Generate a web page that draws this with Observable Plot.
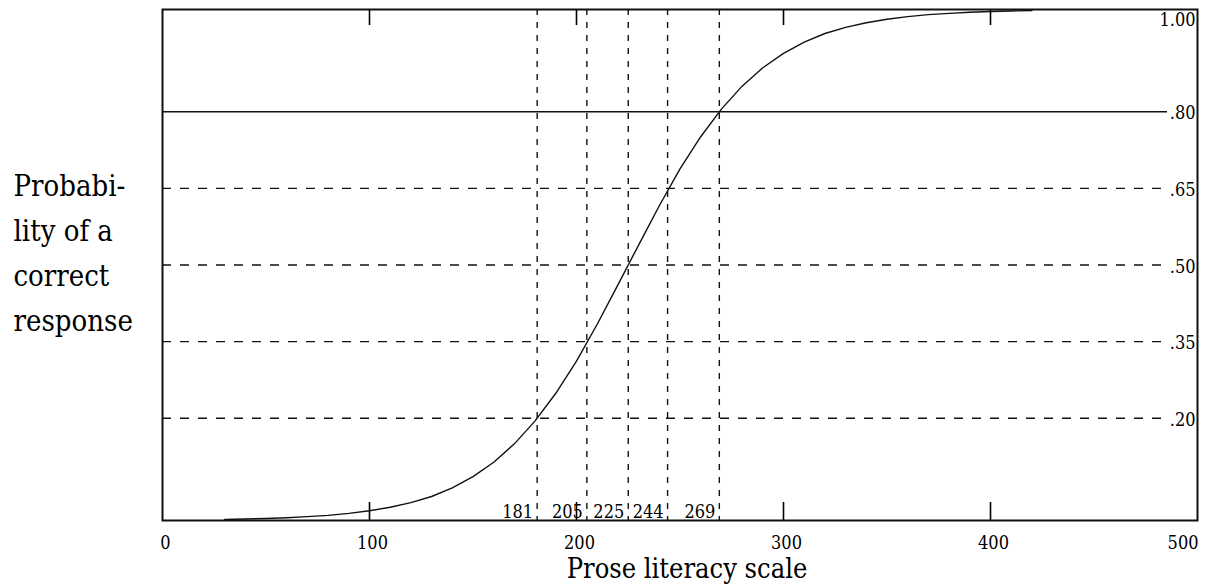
<!DOCTYPE html>
<html>
<head>
<meta charset="utf-8">
<script src="https://cdn.jsdelivr.net/npm/d3@7"></script>
<script src="https://cdn.jsdelivr.net/npm/@observablehq/plot@0.6"></script>
<style>
  html, body { margin: 0; padding: 0; background: #fff; }
  svg { display: block; }
</style>
</head>
<body>
<div id="chart"></div>
<script>
// Curve: probability of a correct response
const curveX = [30, 40, 50, 60, 70, 80, 90, 100, 110, 120, 130, 140, 150, 160, 170, 180, 190, 200,
  210, 220, 230, 240, 250, 260, 270, 280, 290, 300, 310, 320, 330, 340, 350, 360, 370, 380, 390, 400, 410, 420];
const curveP = [0.002, 0.003, 0.004, 0.0055, 0.0075, 0.010, 0.014, 0.019, 0.026, 0.035, 0.047, 0.064, 0.086, 0.114, 0.150, 0.195, 0.249, 0.312,
  0.384, 0.461, 0.539, 0.616, 0.688, 0.751, 0.805, 0.850, 0.886, 0.914, 0.936, 0.953, 0.965, 0.974, 0.981, 0.986, 0.990, 0.9925, 0.9945, 0.996, 0.997, 0.998];

// Horizontal reference levels
const dashedLevels = [0.20, 0.35, 0.50, 0.65];
const solidLevels = [0.80];
const levelLabels = [".20", ".35", ".50", ".65", ".80"];
const levelValues = [0.20, 0.35, 0.50, 0.65, 0.80];
const topLabel = ["1.00"];
const topValue = [1.00];

// Vertical cut scores
const cutScores = [181, 205, 225, 244, 269];

// X axis
const xTicks = [0, 100, 200, 300, 400, 500];
const xInnerTicks = [100, 200, 300, 400];

const yLabelText = "Probabi-\nlity of a\ncorrect\nresponse";
const xLabelText = "Prose literacy scale";

const curve = curveX.map((x, i) => ({x, p: curveP[i]}));
const levels = levelValues.map((v, i) => ({v, t: levelLabels[i]}));
const tops = topValue.map((v, i) => ({v, t: topLabel[i]}));

const font = "'DejaVu Serif Condensed', 'DejaVu Serif', serif";

const chart = Plot.plot({
  width: 1205,
  height: 586,
  marginLeft: 162,
  marginRight: 8,
  marginTop: 9,
  marginBottom: 66,
  x: {domain: [0, 500], axis: null},
  y: {domain: [0, 1], axis: null},
  style: {fontFamily: font, fontStretch: "condensed", background: "#fff", color: "#000"},
  marks: [
    Plot.ruleY(dashedLevels, {stroke: "#111", strokeWidth: 1.4, strokeDasharray: "9,9", insetRight: 32}),
    Plot.ruleY(solidLevels, {stroke: "#111", strokeWidth: 1.4, insetRight: 30}),
    Plot.ruleX(cutScores, {stroke: "#111", strokeWidth: 1.4, strokeDasharray: "6,7"}),
    Plot.line(curve, {x: "x", y: "p", stroke: "#111", strokeWidth: 1.4}),
    Plot.frame({stroke: "#111", strokeWidth: 2}),
    Plot.axisX(xInnerTicks, {anchor: "bottom", tickSize: -18, tickFormat: () => "", label: null, strokeWidth: 1.6}),
    Plot.axisX(xInnerTicks, {anchor: "top", tickSize: -15, tickFormat: () => "", label: null, strokeWidth: 1.6}),
    Plot.axisX(xTicks.slice(0, 5), {anchor: "bottom", tickSize: 0, tickPadding: 16, fontSize: 18, dx: 3, label: null}),
    Plot.axisX(xTicks.slice(5), {anchor: "bottom", tickSize: 0, tickPadding: 16, fontSize: 18, textAnchor: "end", dx: 1, label: null}),
    Plot.text(levels, {y: "v", text: "t", frameAnchor: "right", textAnchor: "end", dx: -2, dy: 2, fontSize: 18}),
    Plot.text(tops, {y: "v", text: "t", frameAnchor: "right", textAnchor: "end", lineAnchor: "top", dx: -2, dy: 4, fontSize: 18}),
    Plot.text(cutScores, {x: d => d, text: d => String(d), frameAnchor: "bottom", textAnchor: "end", lineAnchor: "bottom", dx: -4, dy: -3, fontSize: 18}),
    Plot.text([yLabelText], {frameAnchor: "left", textAnchor: "start", dx: -149, dy: -16, lineHeight: 1.55, fontSize: 29}),
    Plot.text([xLabelText], {frameAnchor: "bottom", lineAnchor: "bottom", dx: 7, dy: 57, fontSize: 27})
  ]
});
document.getElementById("chart").appendChild(chart);
</script>
</body>
</html>
